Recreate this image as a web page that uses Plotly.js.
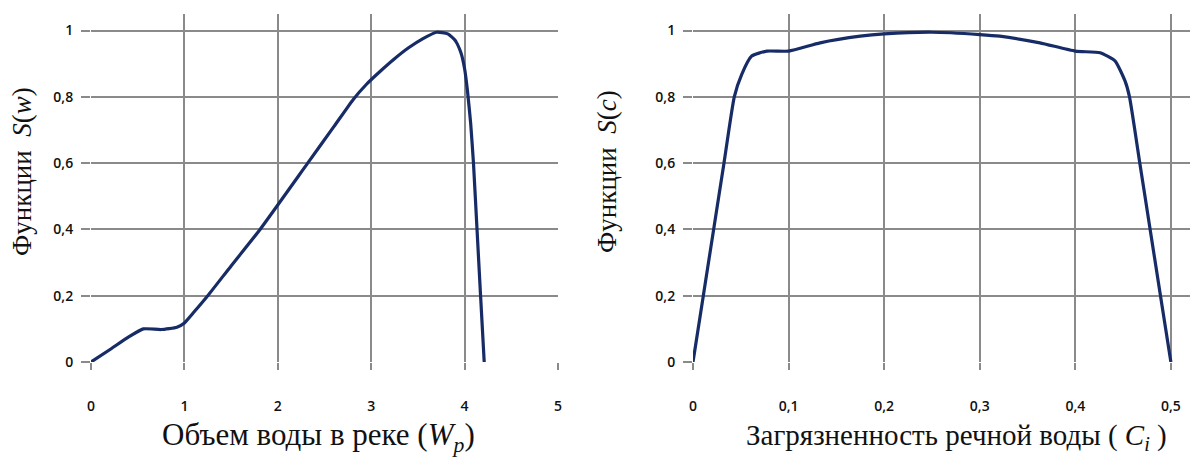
<!DOCTYPE html>
<html>
<head>
<meta charset="utf-8">
<script src="https://cdn.plot.ly/plotly-3.0.1.min.js"></script>
<style>html,body{margin:0;padding:0;background:#fff;}#chart{width:1191px;height:459px;}</style>
</head>
<body>
<div id="chart"></div>
<script>
// Left chart: S(w) vs river water volume
const volumeW = [0, 0.2, 0.4, 0.56, 0.75, 0.92, 1.0, 1.1, 1.25, 1.5, 1.81, 2.32, 2.6, 2.81, 2.95, 3.1, 3.25, 3.4, 3.55, 3.7, 3.82, 3.9, 3.96, 4.0, 4.03, 4.065, 4.095, 4.133, 4.171, 4.21];
const funcSw  = [0, 0.037, 0.075, 0.1, 0.098, 0.105, 0.118, 0.15, 0.2, 0.29, 0.4, 0.6, 0.71, 0.793, 0.838, 0.878, 0.915, 0.948, 0.975, 0.995, 0.99, 0.97, 0.934, 0.885, 0.82, 0.72, 0.6, 0.4, 0.2, 0];

// Right chart: S(c) vs river water pollution
const pollutionC = [0, 0.0108, 0.0216, 0.0324, 0.0432, 0.051, 0.0614, 0.0772, 0.1, 0.133, 0.175, 0.2, 0.25, 0.3, 0.321, 0.363, 0.4, 0.426, 0.4417, 0.452, 0.4567, 0.4675, 0.4783, 0.4891, 0.5];
const funcSc     = [0, 0.2, 0.4, 0.6, 0.8, 0.868, 0.923, 0.938, 0.938, 0.963, 0.983, 0.99, 0.995, 0.988, 0.983, 0.963, 0.938, 0.933, 0.908, 0.848, 0.8, 0.6, 0.4, 0.2, 0];

// Tick labels
const yTickVals = [0, 0.2, 0.4, 0.6, 0.8, 1];
const yTickText = ['0', '0,2', '0,4', '0,6', '0,8', '1'];
const xLeftTickVals = [0, 1, 2, 3, 4, 5];
const xLeftTickText = ['0', '1', '2', '3', '4', '5'];
const xRightTickVals = [0, 0.1, 0.2, 0.3, 0.4, 0.5];
const xRightTickText = ['0', '0,1', '0,2', '0,3', '0,4', '0,5'];

const lineColor = '#172c66';
const gridColor = '#8a8a8a';
const serif = '"Liberation Serif", "Times New Roman", "DejaVu Serif", serif';
const tickFont = {family: 'Open Sans, sans-serif', size: 14, color: '#111', weight: 600};
const titleFontL = {family: serif, size: 31, color: '#111'};
const titleFontR = {family: serif, size: 29, color: '#111'};
const titleFontY = {family: serif, size: 27, color: '#111'};

const traces = [
  {x: volumeW, y: funcSw, xaxis: 'x', yaxis: 'y', mode: 'lines',
   line: {color: lineColor, width: 3.2, shape: 'spline', smoothing: 0.5}, hoverinfo: 'skip'},
  {x: pollutionC, y: funcSc, xaxis: 'x2', yaxis: 'y2', mode: 'lines',
   line: {color: lineColor, width: 3.2, shape: 'spline', smoothing: 0.5}, hoverinfo: 'skip'}
];

function xAxis(domain, range, vals, text, anchor) {
  return {domain: domain, range: range, anchor: anchor, tickvals: vals, ticktext: text,
    showgrid: true, gridcolor: gridColor, gridwidth: 2, zeroline: false, showline: false,
    ticks: 'outside', ticklen: 7, tickwidth: 2, tickcolor: gridColor,
    ticklabelstandoff: 24, tickfont: tickFont, fixedrange: true};
}
function yAxis(domain, anchor) {
  return {domain: domain, range: [0, 1.05], anchor: anchor, tickvals: yTickVals, ticktext: yTickText,
    showgrid: true, gridcolor: gridColor, gridwidth: 2, zeroline: false, showline: false,
    ticks: 'outside', ticklen: 9, tickwidth: 2, tickcolor: gridColor,
    ticklabelstandoff: 5, tickfont: tickFont, fixedrange: true};
}

const yDom = [97/459, 445/459];
const layout = {
  width: 1191, height: 459,
  margin: {l: 0, r: 0, t: 0, b: 0},
  paper_bgcolor: '#fff', plot_bgcolor: '#fff',
  showlegend: false,
  xaxis: xAxis([91/1191, 558/1191], [0, 5], xLeftTickVals, xLeftTickText, 'y'),
  yaxis: yAxis(yDom, 'x'),
  xaxis2: xAxis([693/1191, 1190/1191], [0, 0.52], xRightTickVals, xRightTickText, 'y2'),
  yaxis2: yAxis(yDom, 'x2'),
  annotations: [
    {text: 'Объем воды в реке (<i>W</i><sub><i>p</i></sub>)', xref: 'paper', yref: 'paper',
     x: 318/1191, y: 1 - 437/459, xanchor: 'center', yanchor: 'middle', showarrow: false, font: titleFontL},
    {text: 'Загрязненность речной воды ( <i>C</i><sub><i>i</i></sub> )', xref: 'paper', yref: 'paper',
     x: 956/1191, y: 1 - 437/459, xanchor: 'center', yanchor: 'middle', showarrow: false, font: titleFontR},
    {text: 'Функции  <i>S</i>(<i>w</i>)', xref: 'paper', yref: 'paper', textangle: -90,
     x: 22/1191, y: 1 - 172/459, xanchor: 'center', yanchor: 'middle', showarrow: false, font: titleFontY},
    {text: 'Функции  <i>S</i>(<i>c</i>)', xref: 'paper', yref: 'paper', textangle: -90,
     x: 607/1191, y: 1 - 172/459, xanchor: 'center', yanchor: 'middle', showarrow: false, font: titleFontY}
  ]
};

Plotly.newPlot('chart', traces, layout, {displayModeBar: false, staticPlot: true});
</script>
</body>
</html>
